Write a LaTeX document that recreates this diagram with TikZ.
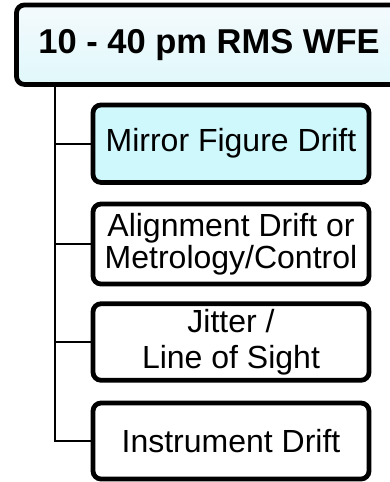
\documentclass[tikz,border=0pt]{standalone}
\usepackage{fontspec}
\setmainfont{Liberation Sans}
\begin{document}
\begin{tikzpicture}[x=1pt,y=-1pt,
  box/.style={draw=black, line width=4.8pt, rounded corners=8pt, align=center,
    inner sep=0pt, text=black},
  head/.style={box, top color=headtop, bottom color=headbot,
    minimum width=385pt, minimum height=79.5pt,
    font=\fontsize{34.5}{36}\selectfont\bfseries},
  item/.style={box, fill=white, minimum width=276pt,
    font=\fontsize{32}{32}\selectfont},
  link/.style={draw=black, line width=2pt}
]
\definecolor{headtop}{HTML}{F4FAFD}
\definecolor{headbot}{HTML}{E0F8FB}
\definecolor{mirrorfill}{HTML}{CFF8FC}
\useasboundingbox (0,0) rectangle (389,482);

% root of the budget tree
\node[head] (top) at (209,44.7) {10 - 40 pm RMS WFE};

% contributing terms
\node[item, fill=mirrorfill, minimum height=77.5pt] (c1) at (231,143.7) {Mirror Figure Drift};
\node[item, minimum height=80pt, font=\fontsize{32}{32}\selectfont] (c2) at (231,244)
  {Alignment Drift or\\Metrology/Control};
\node[item, minimum height=76.5pt, font=\fontsize{32}{36}\selectfont] (c3) at (231,342)
  {Jitter /\\Line of Sight};
\node[item, minimum height=76pt] (c4) at (231,441) {Instrument Drift};

% tree connectors from the root down the left trunk
\coordinate (trunk) at (55,0);
\draw[link] (top.south -| trunk) |- (c1.west);
\draw[link] (top.south -| trunk) |- (c2.west);
\draw[link] (top.south -| trunk) |- (c3.west);
\draw[link] (top.south -| trunk) |- (c4.west);
\end{tikzpicture}
\end{document}
